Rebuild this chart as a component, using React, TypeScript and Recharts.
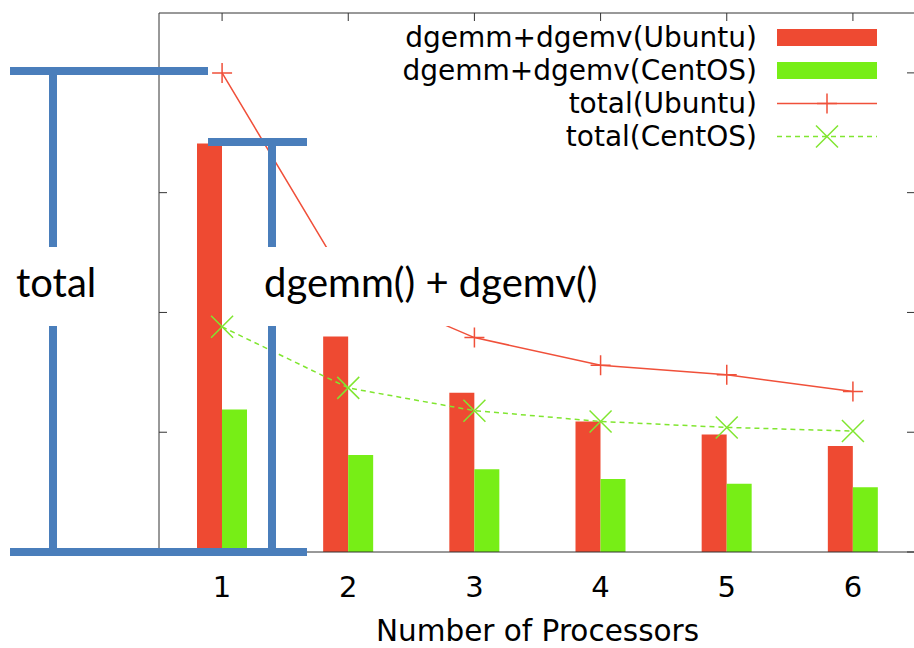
import { ComposedChart, Bar, Line, XAxis, YAxis, Legend, Label } from "recharts"

const processors = ["1", "2", "3", "4", "5", "6"]
const dgemmUbuntu = [3.41, 1.8, 1.33, 1.09, 0.98, 0.885]
const dgemmCentOS = [1.19, 0.81, 0.69, 0.61, 0.57, 0.54]
const totalUbuntu = [4.0, 2.24, 1.79, 1.56, 1.48, 1.34]
const totalCentOS = [1.88, 1.37, 1.18, 1.09, 1.04, 1.01]
const yTicks = [0, 1, 2, 3, 4]

const seriesNames = ["dgemm+dgemv(Ubuntu)", "dgemm+dgemv(CentOS)", "total(Ubuntu)", "total(CentOS)"]

const data = processors.map((p, i) => ({
  n: p,
  du: dgemmUbuntu[i],
  dc: dgemmCentOS[i],
  tu: totalUbuntu[i],
  tc: totalCentOS[i],
}))

const RED = "#ee4a32"
const GREEN = "#77ee16"
const RED_LINE = "#f0503a"
const GREEN_LINE = "#80e630"
const BLUE = "#4a7ebb"
const AXIS = "#333"
const FONT = "'DejaVu Sans', sans-serif"

// ticks without labels (gnuplot style inward marks)
const NoLabel = () => <g />

const PlusDot = (props: any) => {
  const { cx, cy } = props
  if (cx == null || cy == null) return null
  return (
    <path
      d={`M${cx - 10},${cy}H${cx + 10}M${cx},${cy - 10}V${cy + 10}`}
      stroke={RED_LINE}
      strokeWidth={1.5}
      fill="none"
    />
  )
}

const CrossDot = (props: any) => {
  const { cx, cy } = props
  if (cx == null || cy == null) return null
  return (
    <path
      d={`M${cx - 11},${cy - 11}L${cx + 11},${cy + 11}M${cx - 11},${cy + 11}L${cx + 11},${cy - 11}`}
      stroke={GREEN_LINE}
      strokeWidth={1.5}
      fill="none"
    />
  )
}

function sample(i: number) {
  if (i === 0) return <rect x={0} y={8} width={100} height={17} fill={RED} />
  if (i === 1) return <rect x={0} y={8} width={100} height={17} fill={GREEN} />
  if (i === 2)
    return (
      <g>
        <line x1={0} x2={100} y1={16.5} y2={16.5} stroke={RED_LINE} strokeWidth={1.5} />
        <PlusDot cx={50} cy={16.5} />
      </g>
    )
  return (
    <g>
      <line x1={0} x2={100} y1={16.5} y2={16.5} stroke={GREEN_LINE} strokeWidth={1.5} strokeDasharray="5 4" />
      <CrossDot cx={50} cy={16.5} />
    </g>
  )
}

const renderLegend = () => (
  <div style={{ fontFamily: FONT, fontSize: 28, color: "#000" }}>
    {seriesNames.map((name, i) => (
      <div key={name} style={{ display: "flex", alignItems: "center", height: 33 }}>
        <span style={{ width: 400, textAlign: "right", lineHeight: "33px", whiteSpace: "nowrap" }}>{name}</span>
        <svg width={100} height={33} style={{ marginLeft: 20, overflow: "visible" }}>
          {sample(i)}
        </svg>
      </div>
    ))}
  </div>
)

export default function App() {
  return (
    <div
      style={{
        position: "absolute",
        left: 0,
        top: 0,
        width: 914,
        height: 648,
        overflow: "hidden",
        background: "#fff",
      }}
    >
      <ComposedChart
        width={930}
        height={648}
        data={data}
        barGap={0}
        margin={{ top: 13, left: 159, right: 14, bottom: 0 }}
      >
        <XAxis
          dataKey="n"
          xAxisId="bottom"
          height={96}
          interval={0}
          tickLine={false}
          tickSize={0}
          tickMargin={24}
          axisLine={{ stroke: AXIS }}
          tick={{ fontSize: 29, fill: "#000", fontFamily: FONT }}
        >
          <Label
            value="Number of Processors"
            position="insideBottom"
            offset={7}
            style={{ fontSize: 29.5, fill: "#000", fontFamily: FONT }}
          />
        </XAxis>
        <XAxis
          dataKey="n"
          xAxisId="top"
          orientation="top"
          mirror
          height={1}
          interval={0}
          tick={NoLabel}
          tickSize={8}
          axisLine={{ stroke: AXIS }}
          tickLine={{ stroke: AXIS }}
        />
        <YAxis
          yAxisId="left"
          mirror
          width={1}
          domain={[0, 4.5]}
          ticks={yTicks}
          tick={NoLabel}
          tickSize={8}
          axisLine={{ stroke: AXIS }}
          tickLine={{ stroke: AXIS }}
        />
        <YAxis
          yAxisId="right"
          orientation="right"
          mirror
          width={1}
          domain={[0, 4.5]}
          ticks={yTicks}
          tick={NoLabel}
          tickSize={9}
          axisLine={{ stroke: AXIS }}
          tickLine={{ stroke: AXIS }}
        />
        <Legend
          layout="horizontal"
          verticalAlign="middle"
          content={renderLegend}
          wrapperStyle={{ top: 21, left: 357, width: 520, height: 132 }}
        />
        <Bar xAxisId="bottom" yAxisId="left" dataKey="du" name={seriesNames[0]} fill={RED} barSize={25} isAnimationActive={false} />
        <Bar xAxisId="bottom" yAxisId="left" dataKey="dc" name={seriesNames[1]} fill={GREEN} barSize={25} isAnimationActive={false} />
        <Line
          xAxisId="bottom"
          yAxisId="left"
          type="linear"
          dataKey="tu"
          name={seriesNames[2]}
          stroke={RED_LINE}
          strokeWidth={1.5}
          dot={<PlusDot />}
          activeDot={false}
          isAnimationActive={false}
        />
        {/* same [0, 4.5] domain as the left axis, so this also gives the right axis its ticks */}
        <Line
          xAxisId="bottom"
          yAxisId="right"
          type="linear"
          dataKey="tc"
          name={seriesNames[3]}
          stroke={GREEN_LINE}
          strokeWidth={1.5}
          strokeDasharray="5 4"
          dot={<CrossDot />}
          activeDot={false}
          isAnimationActive={false}
        />
      </ComposedChart>

      {/* slide annotations drawn over the plot */}
      <svg width={914} height={648} style={{ position: "absolute", left: 0, top: 0, pointerEvents: "none" }}>
        <rect x={240} y={247} width={380} height={79} fill="#fff" />
        <g fill={BLUE}>
          <rect x={10} y={67} width={198} height={8} />
          <rect x={49} y={75} width={8} height={172} />
          <rect x={49} y={326} width={8} height={222} />
          <rect x={208} y={138} width={99} height={8} />
          <rect x={268} y={146} width={8} height={101} />
          <rect x={268} y={326} width={8} height={222} />
          <rect x={10} y={548} width={297} height={8} />
        </g>
        <text x={16} y={297} fontFamily="Lato, sans-serif" fontSize={40} fill="#000">
          total
        </text>
        <text x={264} y={297} fontFamily="Lato, sans-serif" fontSize={40} fill="#000">
          dgemm() + dgemv()
        </text>
      </svg>
    </div>
  )
}
